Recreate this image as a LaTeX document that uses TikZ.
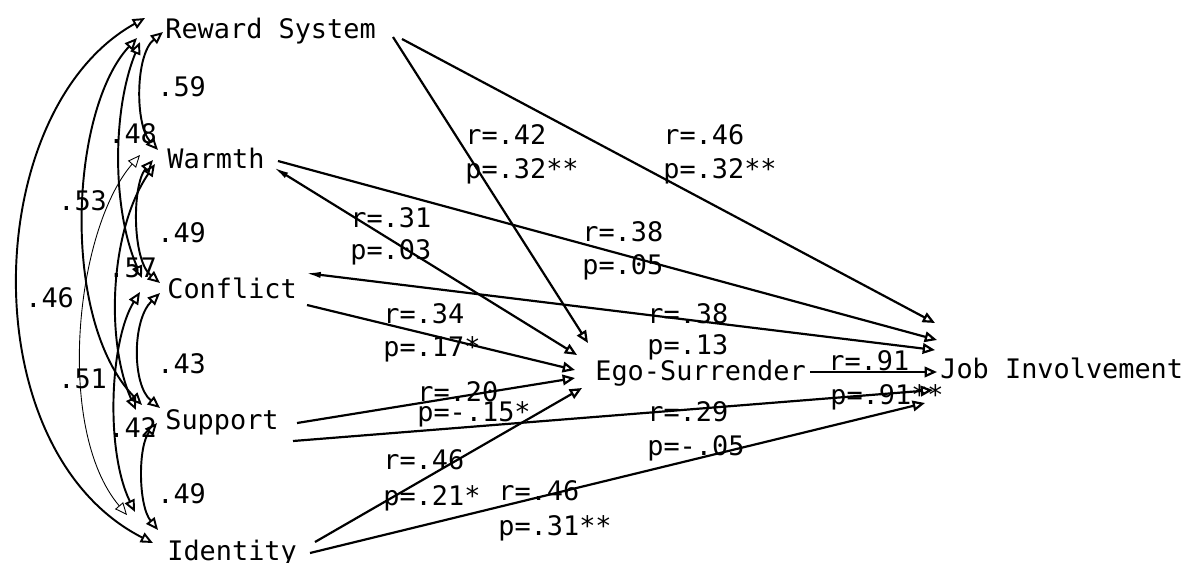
\documentclass[tikz,border=0pt]{standalone}
\usepackage{fontspec}
\newfontfamily\tw{DejaVu Sans Mono}
\usetikzlibrary{arrows.meta}
\begin{document}
\begin{tikzpicture}[x=0.02cm,y=-0.02cm,
  txt/.style={font=\tw\fontsize{15.3}{18}\selectfont, inner sep=0pt, anchor=base west},
  ot/.tip={Triangle[open,length=7pt,width=6pt]},
  wd/.tip={Latex[length=9pt,width=3.5pt]},
  corr/.style={line width=1.1pt, ot-ot},
  pth/.style={line width=1.25pt, -ot}]
\useasboundingbox (0,0) rectangle (1189,562);

% variables
\node[txt] (rs) at (165,38) {Reward System};
\node[txt] (wa) at (167,168) {Warmth};
\node[txt] (co) at (167,298) {Conflict};
\node[txt] (su) at (165,429) {Support};
\node[txt] (id) at (167,560) {Identity};
\node[txt] (eg) at (595,380) {Ego-Surrender};
\node[txt] (ji) at (940,378) {Job Involvement};

% correlations (left side)
\draw[corr] ([shift={(-2,-6)}]rs.base west) .. controls (135,55) and (135,125) .. ([shift={(-9,-18)}]wa.base west);
\draw[corr] ([shift={(-14,-8)}]wa.base west) .. controls (132,185) and (132,260) .. ([shift={(-7,-15)}]co.base west);
\draw[corr] ([shift={(-7,-5)}]co.base west) .. controls (132,320) and (132,385) .. ([shift={(-5,-21)}]su.base west);
\draw[corr] ([shift={(-8,-6)}]su.base west) .. controls (138,445) and (138,505) .. ([shift={(-9,-30)}]id.base west);
\draw[corr] ([shift={(-25,4)}]rs.base west) .. controls (112,110) and (112,210) .. ([shift={(-25,-20)}]co.base west);
\draw[corr] ([shift={(-12,-4)}]wa.base west) .. controls (110,230) and (105,340) .. ([shift={(-29,-19)}]su.base west);
\draw[corr] ([shift={(-27,-6)}]co.base west) .. controls (110,340) and (105,450) .. ([shift={(-32,-48)}]id.base west);
\draw[corr] ([shift={(-28,0)}]rs.base west) .. controls (70,110) and (60,320) .. ([shift={(-23,-24)}]su.base west);
\draw[corr, line width=0.5pt] ([shift={(-27,-13)}]wa.base west) .. controls (75,230) and (55,430) .. ([shift={(-40,-45)}]id.base west);
\draw[corr] ([shift={(-20,-20)}]rs.base west) .. controls (-20,110) and (-30,450) .. ([shift={(-14,-17)}]id.base west);

\node[txt] (c59) at (157,96) {.59};
\node[txt] (c48) at (108,143) {.48};
\node[txt] (c53) at (58,210) {.53};
\node[txt] (c49a) at (157,242) {.49};
\node[txt] (c57) at (108,277) {.57};
\node[txt] (c46) at (25,307) {.46};
\node[txt] (c43) at (157,373) {.43};
\node[txt] (c51) at (58,388) {.51};
\node[txt] (c42) at (108,437) {.42};
\node[txt] (c49b) at (157,503) {.49};

% paths
\draw[pth] ([shift={(228,-1)}]rs.base west) -- ([shift={(-7,-37)}]eg.base west);
\draw[pth] ([shift={(237,1)}]rs.base west) -- ([shift={(-5,-55)}]ji.base west);
\draw[pth, wd-ot] ([shift={(106,-1)}]wa.base west) -- ([shift={(-18,-25)}]eg.base west);
\draw[pth] ([shift={(111,-7)}]wa.base west) -- ([shift={(-3,-38)}]ji.base west);
\draw[pth, wd-ot] ([shift={(138,-25)}]co.base west) -- ([shift={(-5,-28)}]ji.base west);
\draw[pth] ([shift={(140,7)}]co.base west) -- ([shift={(-20,-10)}]eg.base west);
\draw[pth] ([shift={(132,-6)}]su.base west) -- ([shift={(-20,-2)}]eg.base west);
\draw[pth] ([shift={(128,12)}]su.base west) -- ([shift={(-7,12)}]ji.base west);
\draw[pth] ([shift={(148,-18)}]id.base west) -- ([shift={(-13,8)}]eg.base west);
\draw[pth] ([shift={(143,-7)}]id.base west) -- ([shift={(-15,25)}]ji.base west);
\draw[pth] ([shift={(215,-8)}]eg.base west) -- ([shift={(-3,-6)}]ji.base west);

% path labels
\node[txt] (l1r) at (465,144) {r=.42};
\node[txt] (l1p) at (465,178) {p=.32**};
\node[txt] (l2r) at (663,144) {r=.46};
\node[txt] (l2p) at (663,178) {p=.32**};
\node[txt] (l3r) at (350,227) {r=.31};
\node[txt] (l3p) at (350,259) {p=.03};
\node[txt] (l4r) at (582,241) {r=.38};
\node[txt] (l4p) at (582,274) {p=.05};
\node[txt] (l5r) at (383,323) {r=.34};
\node[txt] (l5p) at (383,356) {p=.17*};
\node[txt] (l6r) at (647,323) {r=.38};
\node[txt] (l6p) at (647,354) {p=.13};
\node[txt] (l7r) at (417,401) {r=.20};
\node[txt] (l7p) at (417,421) {p=-.15*};
\node[txt] (l8r) at (647,421) {r=.29};
\node[txt] (l8p) at (647,455) {p=-.05};
\node[txt] (l9r) at (383,469) {r=.46};
\node[txt] (l9p) at (383,505) {p=.21*};
\node[txt] (l10r) at (498,500) {r=.46};
\node[txt] (l10p) at (498,535) {p=.31**};
\node[txt] (l11r) at (828,370) {r=.91};
\node[txt] (l11p) at (830,404) {p=.91**};
\end{tikzpicture}
\end{document}
